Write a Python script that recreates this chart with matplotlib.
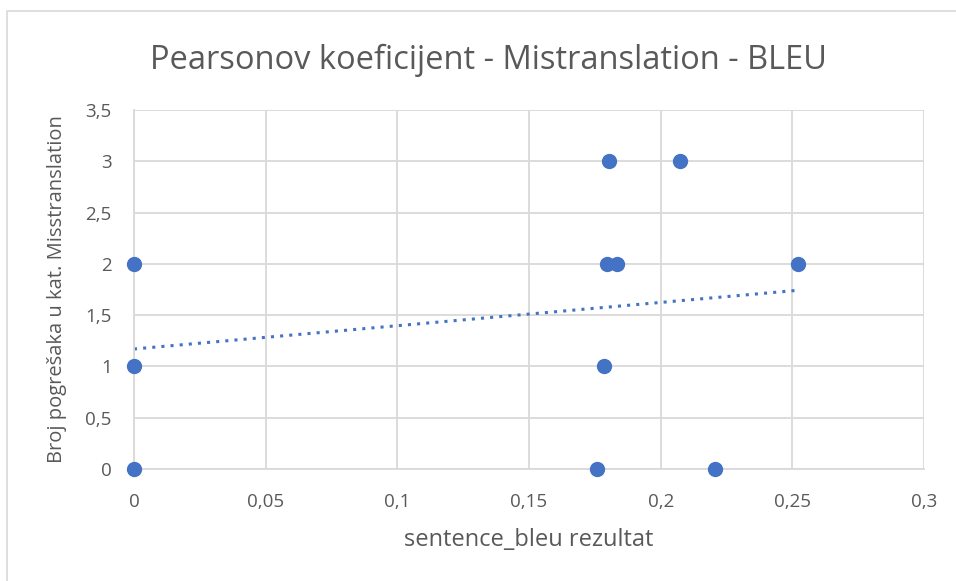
"""Scatter of Mistranslation error counts against sentence BLEU, with linear trendline."""

import matplotlib.pyplot as plt
from matplotlib.patches import Rectangle
from matplotlib.ticker import FuncFormatter, MultipleLocator
import numpy as np

# data
bleu = [0.0, 0.0, 0.0, 0.1804, 0.2073, 0.1796, 0.1834, 0.2522, 0.1785, 0.1758, 0.2206]
errors = [2, 1, 0, 3, 3, 2, 2, 2, 1, 0, 0]

# trendline (as drawn in the chart)
trend_intercept = 1.17
trend_slope = 2.27
trend_x = [0.0, 0.2522]

TITLE = "Pearsonov koeficijent - Mistranslation - BLEU"
XLABEL = "sentence_bleu rezultat"
YLABEL = "Broj pogrešaka u kat. Misstranslation"

BLUE = "#4472C4"
GRID = "#D9D9D9"
TEXT = "#595959"

W, H = 956, 581


def comma_fmt(v, _):
    s = f"{v:.2f}".rstrip("0").rstrip(".")
    return s.replace(".", ",")


def main():
    plt.rcParams["font.family"] = ["Open Sans", "DejaVu Sans"]
    fig = plt.figure(figsize=(W / 100, H / 100), dpi=100)

    # chart area border (right/bottom edges fall outside the image)
    fig.patches.append(Rectangle((7 / W, -0.1), 1.2, 1 - 11 / H + 0.1,
                                 transform=fig.transFigure, fill=False,
                                 edgecolor=GRID, linewidth=1.2))

    left, right, top, bottom = 134, 924, 110, 469
    ax = fig.add_axes([left / W, 1 - bottom / H, (right - left) / W, (bottom - top) / H])

    ax.set_xlim(0, 0.3)
    ax.set_ylim(0, 3.5)
    ax.xaxis.set_major_locator(MultipleLocator(0.05))
    ax.yaxis.set_major_locator(MultipleLocator(0.5))
    ax.xaxis.set_major_formatter(FuncFormatter(comma_fmt))
    ax.yaxis.set_major_formatter(FuncFormatter(comma_fmt))

    ax.grid(True, color=GRID, linewidth=1.3)
    ax.set_axisbelow(True)
    for side in ("top", "right"):
        ax.spines[side].set_visible(False)
    for side in ("left", "bottom"):
        ax.spines[side].set_color(GRID)
        ax.spines[side].set_linewidth(1.3)
    ax.tick_params(length=0, labelsize=13.5, colors=TEXT)
    ax.tick_params(axis="x", pad=17)
    ax.tick_params(axis="y", pad=16)

    tx = np.array(trend_x)
    ax.plot(tx, trend_intercept + trend_slope * tx, color=BLUE, linestyle=(0, (1, 2)),
            linewidth=2.2, zorder=2)
    ax.scatter(bleu, errors, s=100, color=BLUE, zorder=3, clip_on=False)

    fig.text(489 / W, 1 - 60 / H, TITLE, ha="center", va="center", fontsize=23.5, color=TEXT)
    ax.set_xlabel(XLABEL, fontsize=17, color=TEXT, va="center")
    ax.set_ylabel(YLABEL, fontsize=14.5, color=TEXT, va="center")
    ax.xaxis.set_label_coords((529 - left) / (right - left), (bottom - 540) / (bottom - top))
    ax.yaxis.set_label_coords((57 - left) / (right - left), 0.5)

    fig.savefig("out.png", dpi=100)


if __name__ == "__main__":
    main()
